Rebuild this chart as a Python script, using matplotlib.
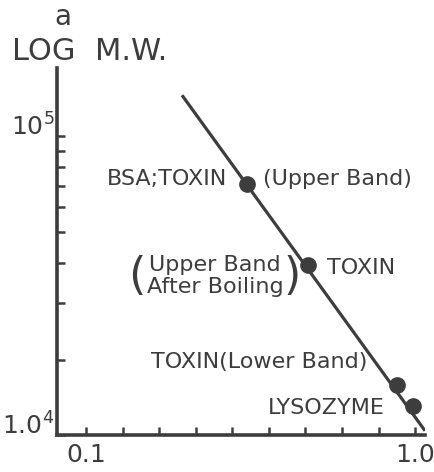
import matplotlib
matplotlib.use("Agg")
import matplotlib.pyplot as plt

# relative mobility vs molecular weight
mobility = [0.54, 0.707, 0.951, 0.994]
mol_weight = [71000, 39500, 16700, 14300]

# hand drawn calibration line, end points
line_x = [0.3626, 1.027]
line_mw = [134000, 12000]

ink = "#3d3d3d"
plt.rcParams['font.family'] = ['DejaVu Sans']
plt.rcParams['text.color'] = ink
plt.rcParams['mathtext.default'] = 'regular'

fig = plt.figure(figsize=(4.35, 4.72), dpi=100)
ax = fig.add_axes([57 / 435, 1 - 435 / 472, (425 - 57) / 435, (435 - 68) / 472])

ax.set_yscale('log')
ax.set_xlim(0.0207, 1.027)
ax.set_ylim(11640, 163000)

ax.plot(line_x, line_mw, color=ink, lw=2.3, solid_capstyle='butt')
ax.plot(mobility, mol_weight, 'o', color=ink, ms=11)

# axes look
for side in ['top', 'right']:
    ax.spines[side].set_visible(False)
for side in ['left', 'bottom']:
    ax.spines[side].set_linewidth(2.6)
    ax.spines[side].set_color(ink)

ax.set_xticks([0.1, 1.0])
ax.set_xticklabels(['0.1', '1.0'], fontsize=18)
ax.set_xticks([0.2, 0.3, 0.4, 0.5, 0.6, 0.7, 0.8, 0.9], minor=True)
ax.set_yticks([11640, 1e5])
ax.set_yticklabels(['1.0$^4$', '10$^5$'], fontsize=18)
ax.set_yticks([2e4, 3e4, 4e4, 5e4, 6e4, 7e4, 8e4, 9e4], minor=True)
ax.yaxis.set_minor_formatter(matplotlib.ticker.NullFormatter())
ax.tick_params(which='both', direction='in', length=6, width=1.8, color=ink, labelcolor=ink)
ax.tick_params(axis='x', pad=6)
ax.tick_params(axis='y', pad=2)
for lab in ax.get_yticklabels():
    lab.set_verticalalignment('baseline')

# labels on the points
fs = 16
ax.text(0.486, 73500, 'BSA;TOXIN', fontsize=fs, ha='right', va='center')
ax.text(0.584, 73500, '(Upper Band)', fontsize=fs, ha='left', va='center')
ax.text(0.453, 36500, 'Upper Band\nAfter Boiling', fontsize=fs, ha='center', va='center',
        linespacing=1.15)
ax.text(0.2395, 36500, '(', fontsize=32, ha='center', va='center')
ax.text(0.6635, 36500, ')', fontsize=32, ha='center', va='center')
ax.text(0.759, 38700, 'TOXIN', fontsize=fs, ha='left', va='center')
ax.text(0.869, 19700, 'TOXIN(Lower Band)', fontsize=fs, ha='right', va='center')
ax.text(0.918, 14100, 'LYSOZYME', fontsize=fs, ha='right', va='center')

fig.text(63 / 435, 1 - 25 / 472, 'a', fontsize=20, ha='center', va='baseline')
fig.text(12 / 435, 1 - 60 / 472, 'LOG  M.W.', fontsize=22, ha='left', va='baseline')

fig.savefig('out.png', dpi=100)
